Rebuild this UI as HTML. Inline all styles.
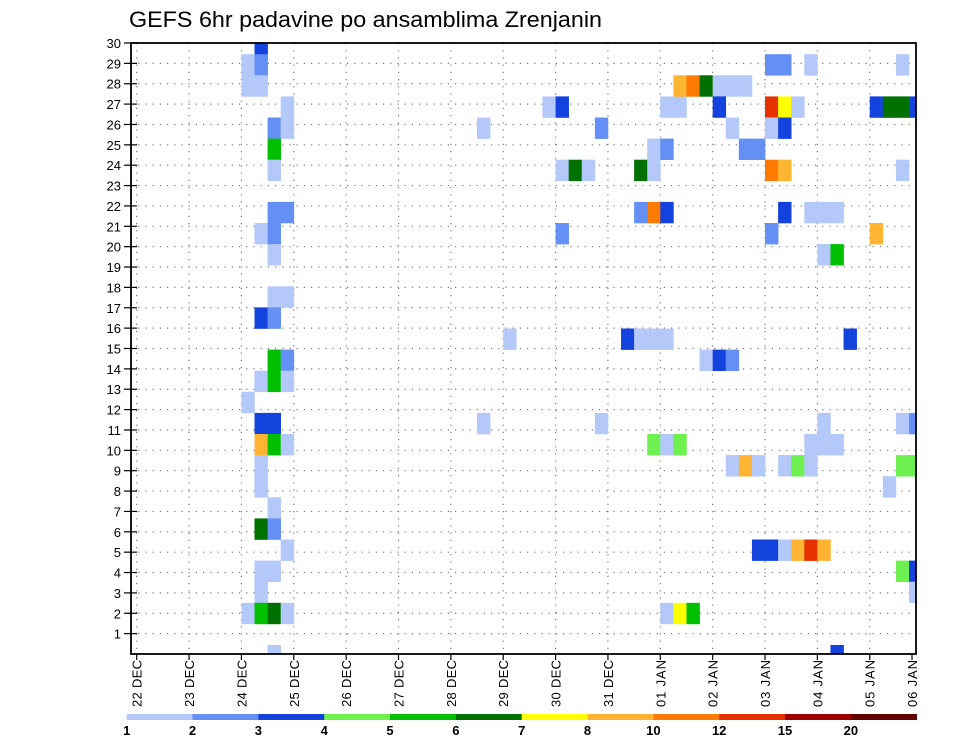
<!DOCTYPE html>
<html><head><meta charset="utf-8">
<style>
html,body{margin:0;padding:0;background:#fff;}
svg{display:block;font-family:"Liberation Sans",sans-serif;}
</style></head>
<body>
<svg id="chart" width="960" height="742" viewBox="0 0 960 742" xmlns="http://www.w3.org/2000/svg">
<text x="129" y="27" font-size="22" textLength="473" lengthAdjust="spacingAndGlyphs" fill="#000">GEFS 6hr padavine po ansamblima Zrenjanin</text>
<g id="grid"></g>
<g id="cells"></g>
<g id="axes"></g>
<g id="colorbar"></g>
</svg>
<script>
// data: 6-hour step index from 22 DEC 00Z, ensemble member, precipitation (mm)
const cellTime = [9,8,9,8,9,11,10,11,10,10,10,11,9,10,10,10,11,9,10,10,11,9,10,11,8,9,10,9,10,11,9,9,10,9,10,11,9,10,9,8,9,10,11,10,
26,26,28,31,32,35,35,32,33,34,32,37,38,39,40,38,39,39,40,38,39,40,40,41,41,42,43,44,45,46,39,40,41,40,41,42,
48,49,51,58,44,48,49,50,56,57,58,59,45,48,49,46,47,48,49,58,49,51,52,53,48,56,52,53,54,43,44,45,52,58,59,51,52,53,45,46,47,49,50,51,58,59,57,47,48,49,50,51,52,58,59,59,53];
const cellMember = [30,29,29,28,28,27,26,26,25,24,22,22,21,21,20,18,18,17,17,15,15,14,14,14,13,12,12,11,11,11,10,9,8,7,7,6,5,5,4,3,3,3,3,1,
26,12,16,27,27,26,12,24,24,24,21,16,16,16,16,24,24,25,25,22,22,22,27,27,28,28,28,28,28,28,11,11,11,3,3,3,
29,29,29,29,27,27,27,27,27,27,27,27,26,26,26,25,25,24,24,24,22,22,22,22,21,21,20,20,16,15,15,15,12,12,12,11,11,11,10,10,10,10,10,10,10,10,9,6,6,6,6,6,6,5,5,4,1];
const cellValue = [3.5,1.5,2.5,1.5,1.5,1.5,2.5,1.5,5.5,1.5,2.5,2.5,1.5,2.5,1.5,1.5,1.5,3.5,2.5,5.5,2.5,1.5,5.5,1.5,1.5,3.5,3.5,9,5.5,1.5,1.5,1.5,1.5,6.5,2.5,1.5,1.5,1.5,1.5,1.5,5.5,6.5,1.5,1.5,
1.5,1.5,1.5,1.5,3.5,2.5,1.5,1.5,6.5,1.5,2.5,3.5,1.5,1.5,1.5,6.5,1.5,1.5,2.5,2.5,11,3.5,1.5,1.5,9,11,6.5,1.5,1.5,1.5,4.5,1.5,4.5,1.5,7.5,5.5,
2.5,2.5,1.5,1.5,3.5,13,7.5,1.5,3.5,6.5,6.5,3.5,1.5,1.5,3.5,2.5,2.5,11,9,1.5,3.5,1.5,1.5,1.5,2.5,9,1.5,5.5,3.5,1.5,3.5,2.5,1.5,1.5,2.5,1.5,1.5,1.5,1.5,9,1.5,1.5,4.5,1.5,4.5,4.5,1.5,3.5,3.5,1.5,9,13,9,4.5,3.5,1.5,3.5];
const levels = [1,2,3,4,5,6,7,8,10,12,15,20];
const levelLabels = ["1","2","3","4","5","6","7","8","10","12","15","20"];
const dayLabels = ["22 DEC","23 DEC","24 DEC","25 DEC","26 DEC","27 DEC","28 DEC","29 DEC","30 DEC","31 DEC","01 JAN","02 JAN","03 JAN","04 JAN","05 JAN","06 JAN"];
const yTickLabels = [1,2,3,4,5,6,7,8,9,10,11,12,13,14,15,16,17,18,19,20,21,22,23,24,25,26,27,28,29,30];

const colors = ["#b4c8fa","#6490f5","#1442dc","#6ef050","#00c000","#007000","#ffff00","#ffb432","#ff7a00","#e63200","#a00000","#640000"];
const NS="http://www.w3.org/2000/svg";
const L=131,R=916,T=43,B=654;
const X0=136.7, DAY=52.36, STEP=DAY/4;
const xTime = t => X0 + t*STEP;
const xDay = d => X0 + d*DAY;
const yTick = v => B - v*(B-T)/30;
const PITCH=21.1;
const yMemberTop = m => 645 - (m-1)*PITCH;
function mk(tag, attrs, parent){const e=document.createElementNS(NS,tag);for(const k in attrs)e.setAttribute(k,attrs[k]);parent.appendChild(e);return e;}
function colorFor(v){let i=0;for(let k=0;k<levels.length;k++){if(v>=levels[k])i=k;}return colors[i];}

const grid=document.getElementById('grid');
yTickLabels.forEach(v=>{
  const l=mk('line',{x1:L,x2:R,y1:yTick(v),y2:yTick(v),stroke:'#777','stroke-width':1.2,'stroke-dasharray':'1.2,6'},grid);
  
  
});
dayLabels.forEach((d,i)=>{
  const x=xDay(i); if(x>R) return;
  const l=mk('line',{x1:x,x2:x,y1:T,y2:B,stroke:'#777','stroke-width':1.2,'stroke-dasharray':'1.2,6'},grid);
  
  
});

const cells=document.getElementById('cells');
const clip=mk('clipPath',{id:'pc'},cells);
mk('rect',{x:L,y:T,width:R-L,height:B-T},clip);
const cg=mk('g',{'clip-path':'url(#pc)'},cells);
for(let i=0;i<cellTime.length;i++){
  const r=mk('rect',{x:xTime(cellTime[i]),y:yMemberTop(cellMember[i]),width:STEP+0.3,height:PITCH+0.3,fill:colorFor(cellValue[i])},cg);
  
  
}

const axes=document.getElementById('axes');
const frame=mk('rect',{x:L,y:T,width:R-L,height:B-T,fill:'none',stroke:'#000','stroke-width':1.8},axes);


yTickLabels.forEach(v=>{
  const y=yTick(v);
  mk('line',{x1:124,x2:137,y1:y,y2:y,stroke:'#000','stroke-width':1.2},axes);
  const t=mk('text',{x:121,y:y+5,'font-size':13,'text-anchor':'end',fill:'#000'},axes);
  t.textContent=v;
  
  
});
dayLabels.forEach((d,i)=>{
  let x=xDay(i); if(x>R) x=912;
  mk('line',{x1:x,x2:x,y1:B,y2:B+6,stroke:'#000','stroke-width':1.2},axes);
  const t=mk('text',{x:0,y:0,'font-size':13,'text-anchor':'start',fill:'#000',textLength:47,lengthAdjust:'spacing',transform:`translate(${x+5},707) rotate(-90)`},axes);
  t.textContent=d;
  
  
});

const cb=document.getElementById('colorbar');
const CB0=126.7, CBW=(916.7-126.7)/levels.length;
levels.forEach((lv,i)=>{
  const r=mk('rect',{x:CB0+i*CBW,y:714,width:CBW+0.3,height:6,fill:colors[i]},cb);
  
  
  const t=mk('text',{x:CB0+i*CBW,y:735,'font-size':13,'font-weight':'bold','text-anchor':'middle',fill:'#000'},cb);
  t.textContent=levelLabels[i];
  
  
});
</script>
</body></html>
